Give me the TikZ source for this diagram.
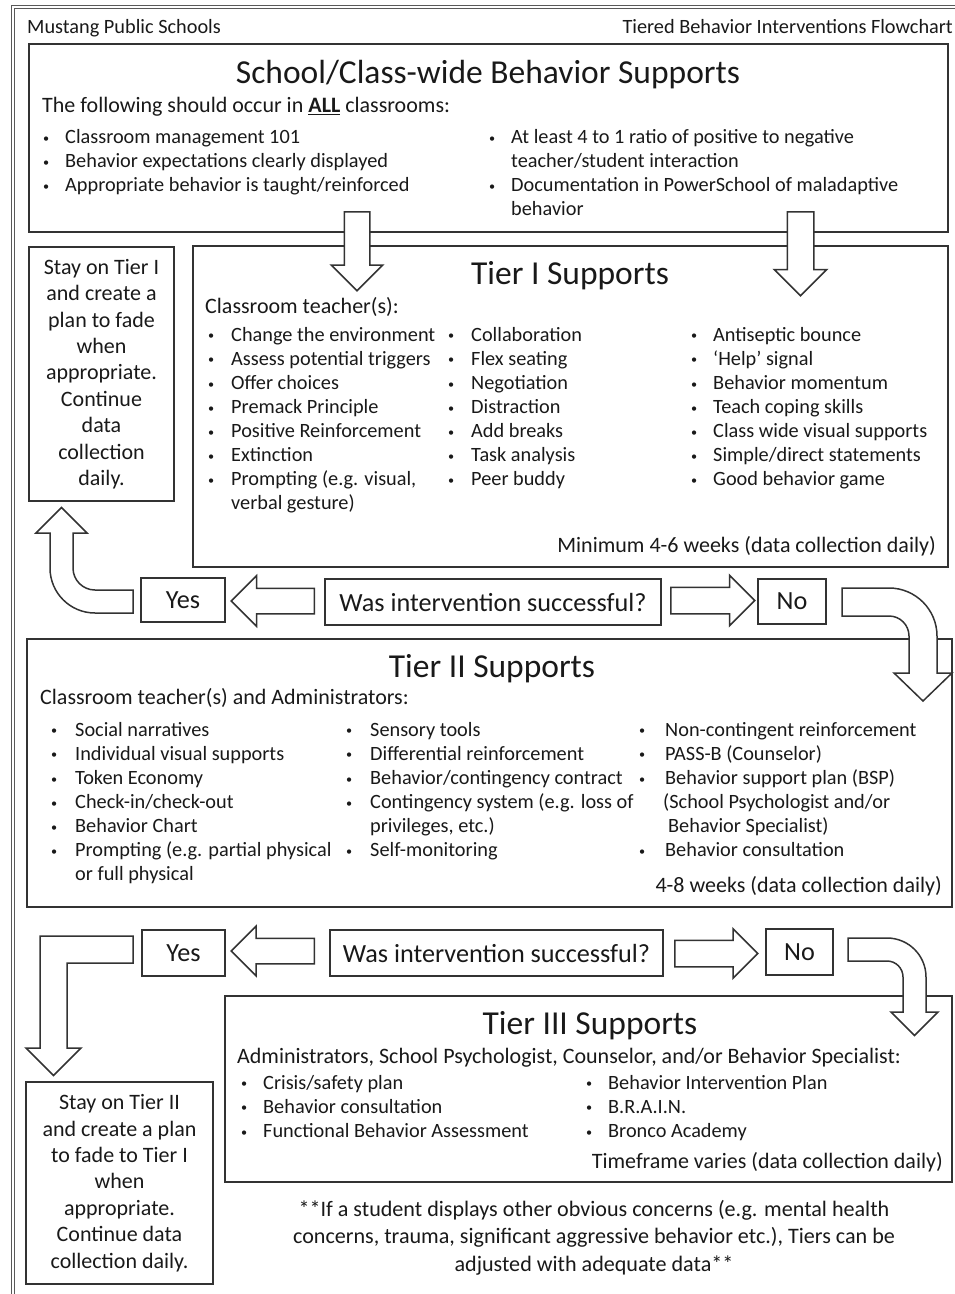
\documentclass[tikz,border=0pt]{standalone}
\usepackage{fontspec}
\usepackage{graphicx}
\setmainfont{Carlito}
\usetikzlibrary{shapes.arrows}

\newcommand\bodyfs{\fontsize{20.3}{24.1}\selectfont}
\newcommand\subfs{\fontsize{22}{26.4}\selectfont}
\newcommand\ttlfs{\fontsize{33.5}{40}\selectfont}
\newcommand\askfs{\fontsize{26.2}{30}\selectfont}
\newcommand\notefs{\fontsize{22.1}{27.5}\selectfont}
\newcommand\bul{\raisebox{1.2pt}{\scalebox{0.6}{\textbullet}}}

\begin{document}
\begin{tikzpicture}[x=1pt,y=-1pt,
  box/.style={draw=black!80, line width=2pt, inner sep=0pt},
  blk/.style={draw=black!80, line width=1.5pt, fill=white},
  barrow/.style={blk, single arrow, inner xsep=0pt, anchor=tail},
  lst/.style={inner sep=0pt, anchor=base west, font=\bodyfs, text=black!90},
  sub/.style={inner sep=0pt, font=\subfs, text=black!90},
  ttl/.style={inner sep=0pt, anchor=base, font=\ttlfs, text=black!90},
  ask/.style={box, font=\askfs, text=black!90}]
  \useasboundingbox (0,0) rectangle (955,1294);
  \clip (0,0) rectangle (955,1294);
  \draw[black!65, line width=1pt] (11,5) rectangle (1000,1320);
  \draw[black!65, line width=1pt] (14,8) rectangle (997,1317);

  \node[sub, anchor=base west, font=\bodyfs] (hdl) at (27,33.5) {Mustang Public Schools};
  \node[sub, anchor=base east, font=\bodyfs] (hdr) at (953,33.5) {Tiered Behavior Interventions Flowchart};

  \node[box, minimum width=919, minimum height=188] (sup0) at (488.5,138) {};
  \node[box, minimum width=145, minimum height=254, align=center, font=\subfs, text=black!90] (stay1) at (101.5,374)
    {Stay on Tier I\\and create a\\plan to fade\\when\\appropriate.\\Continue\\data\\collection\\daily.};
  \node[box, minimum width=755, minimum height=321] (tier1) at (570.5,406.5) {};
  \node[ask, minimum width=84, minimum height=44] (yes1) at (183,600) {Yes};
  \node[ask, minimum width=336, minimum height=46] (ask1) at (493,602) {Was intervention successful?};
  \node[ask, minimum width=68, minimum height=45] (no1) at (792,601.5) {No};
  \node[box, minimum width=925, minimum height=268] (tier2) at (489.5,773) {};
  \node[ask, minimum width=83, minimum height=46] (yes2) at (183.5,953) {Yes};
  \node[ask, minimum width=333, minimum height=46] (ask2) at (496.5,953) {Was intervention successful?};
  \node[ask, minimum width=67, minimum height=46] (no2) at (799.5,952) {No};
  \node[box, minimum width=727, minimum height=186] (tier3) at (588.5,1089) {};
  \node[box, minimum width=187, minimum height=202, align=center, font=\subfs, text=black!90] (stay2) at (119.5,1183)
    {Stay on Tier II\\and create a plan\\to fade to Tier I\\when\\appropriate.\\Continue data\\collection daily.};

  \node[barrow, rotate=-90, inner ysep=12, minimum height=79, minimum width=50, single arrow head extend=13] (dn1) at (357,211) {};
  \node[barrow, rotate=-90, inner ysep=12.5, minimum height=84, minimum width=51, single arrow head extend=13] (dn2) at (800.5,211) {};
  \node[barrow, rotate=180, inner ysep=12, minimum height=83, minimum width=49, single arrow head extend=12.5] (toyes1) at (315,601) {};
  \node[barrow, inner ysep=12.5, minimum height=84, minimum width=49, single arrow head extend=12] (tono1) at (670,600.5) {};
  \node[barrow, rotate=180, inner ysep=12, minimum height=83, minimum width=48, single arrow head extend=12] (toyes2) at (315,951) {};
  \node[barrow, inner ysep=12.5, minimum height=83, minimum width=48, single arrow head extend=11.5] (tono2) at (674,953.5) {};
  \draw[blk] (133,613) -- (95,613) arc[start angle=90, end angle=180, radius=45] -- (50,533) -- (36,533)
    -- (61.5,507.5) -- (87,533) -- (73,533) -- (73,568) arc[start angle=180, end angle=90, radius=22] -- (133,590) -- cycle;
  \draw[blk] (842,588) -- (889,588) arc[start angle=-90, end angle=0, radius=48] -- (937,673) -- (952,673)
    -- (923,701) -- (894,673) -- (909,673) -- (909,636) arc[start angle=0, end angle=-90, radius=20] -- (842,616) -- cycle;
  \draw[blk] (133,936) -- (40,936) -- (40,1048) -- (26,1048) -- (53.5,1075.5) -- (81,1048) -- (67,1048)
    -- (67,963) -- (133,963) -- cycle;
  \draw[blk] (848,938) -- (887,938) arc[start angle=-90, end angle=0, radius=39] -- (926,1012) -- (938,1012)
    -- (914.5,1035.5) -- (891,1012) -- (903,1012) -- (903,977) arc[start angle=0, end angle=-90, radius=16] -- (848,961) -- cycle;

  \node[ttl] (t0) at (488,83) {School/Class-wide Behavior Supports};
  \node[sub, anchor=base west] (s0) at (42,112.5) {The following should occur in \textbf{\underline{ALL}} classrooms:};
  \node[lst] (c0a) at (43,143.5) {\begin{tabular}[t]{@{}p{22pt}@{}l@{}}
    \bul & Classroom management 101\\
    \bul & Behavior expectations clearly displayed\\
    \bul & Appropriate behavior is taught/reinforced
  \end{tabular}};
  \node[lst] (c0b) at (489,143.5) {\begin{tabular}[t]{@{}p{22pt}@{}l@{}}
    \bul & At least 4 to 1 ratio of positive to negative\\
    & teacher/student interaction\\
    \bul & Documentation in PowerSchool of maladaptive\\
    & behavior
  \end{tabular}};

  \node[ttl] (t1) at (570,284) {Tier I Supports};
  \node[sub, anchor=base west] (s1) at (205,313.5) {Classroom teacher(s):};
  \node[lst] (c1a) at (208,341) {\begin{tabular}[t]{@{}p{23pt}@{}l@{}}
    \bul & Change the environment\\
    \bul & Assess potential triggers\\
    \bul & Offer choices\\
    \bul & Premack Principle\\
    \bul & Positive Reinforcement\\
    \bul & Extinction\\
    \bul & Prompting (e.g. visual,\\
    & verbal gesture)
  \end{tabular}};
  \node[lst] (c1b) at (448,341) {\begin{tabular}[t]{@{}p{23pt}@{}l@{}}
    \bul & Collaboration\\
    \bul & Flex seating\\
    \bul & Negotiation\\
    \bul & Distraction\\
    \bul & Add breaks\\
    \bul & Task analysis\\
    \bul & Peer buddy
  \end{tabular}};
  \node[lst] (c1c) at (691,341) {\begin{tabular}[t]{@{}p{22pt}@{}l@{}}
    \bul & Antiseptic bounce\\
    \bul & ‘Help’ signal\\
    \bul & Behavior momentum\\
    \bul & Teach coping skills\\
    \bul & Class wide visual supports\\
    \bul & Simple/direct statements\\
    \bul & Good behavior game
  \end{tabular}};
  \node[sub, anchor=base east] (w1) at (936,552.5) {Minimum 4-6 weeks (data collection daily)};

  \node[ttl] (t2) at (492,677) {Tier II Supports};
  \node[sub, anchor=base west] (s2) at (40,704.5) {Classroom teacher(s) and Administrators:};
  \node[lst] (c2a) at (51,736) {\begin{tabular}[t]{@{}p{24pt}@{}l@{}}
    \bul & Social narratives\\
    \bul & Individual visual supports\\
    \bul & Token Economy\\
    \bul & Check-in/check-out\\
    \bul & Behavior Chart\\
    \bul & Prompting (e.g. partial physical\\
    & or full physical
  \end{tabular}};
  \node[lst] (c2b) at (346,736) {\begin{tabular}[t]{@{}p{24pt}@{}l@{}}
    \bul & Sensory tools\\
    \bul & Differential reinforcement\\
    \bul & Behavior/contingency contract\\
    \bul & Contingency system (e.g. loss of\\
    & privileges, etc.)\\
    \bul & Self-monitoring
  \end{tabular}};
  \node[lst] (c2c) at (639,736) {\begin{tabular}[t]{@{}p{26pt}@{}l@{}}
    \bul & Non-contingent reinforcement\\
    \bul & PASS-B (Counselor)\\
    \bul & Behavior support plan (BSP)\\
    & \hspace{-2pt}(School Psychologist and/or\\
    & \hspace{3pt}Behavior Specialist)\\
    \bul & Behavior consultation
  \end{tabular}};
  \node[sub, anchor=base east] (w2) at (942,892.5) {4-8 weeks (data collection daily)};

  \node[ttl] (t3) at (590,1034) {Tier III Supports};
  \node[sub, anchor=base west] (s3) at (237,1063.5) {Administrators, School Psychologist, Counselor, and/or Behavior Specialist:};
  \node[lst] (c3a) at (241,1089) {\begin{tabular}[t]{@{}p{22pt}@{}l@{}}
    \bul & Crisis/safety plan\\
    \bul & Behavior consultation\\
    \bul & Functional Behavior Assessment
  \end{tabular}};
  \node[lst] (c3b) at (586,1089) {\begin{tabular}[t]{@{}p{22pt}@{}l@{}}
    \bul & Behavior Intervention Plan\\
    \bul & B.R.A.I.N.\\
    \bul & Bronco Academy
  \end{tabular}};
  \node[sub, anchor=base east] (w3) at (943,1168.5) {Timeframe varies (data collection daily)};

  \node[inner sep=0pt, align=center, font=\notefs, text=black!90] (note) at (594,1237.5)
    {**If a student displays other obvious concerns (e.g. mental health\\
     concerns, trauma, significant aggressive behavior etc.), Tiers can be\\
     adjusted with adequate data**};
\end{tikzpicture}
\end{document}
